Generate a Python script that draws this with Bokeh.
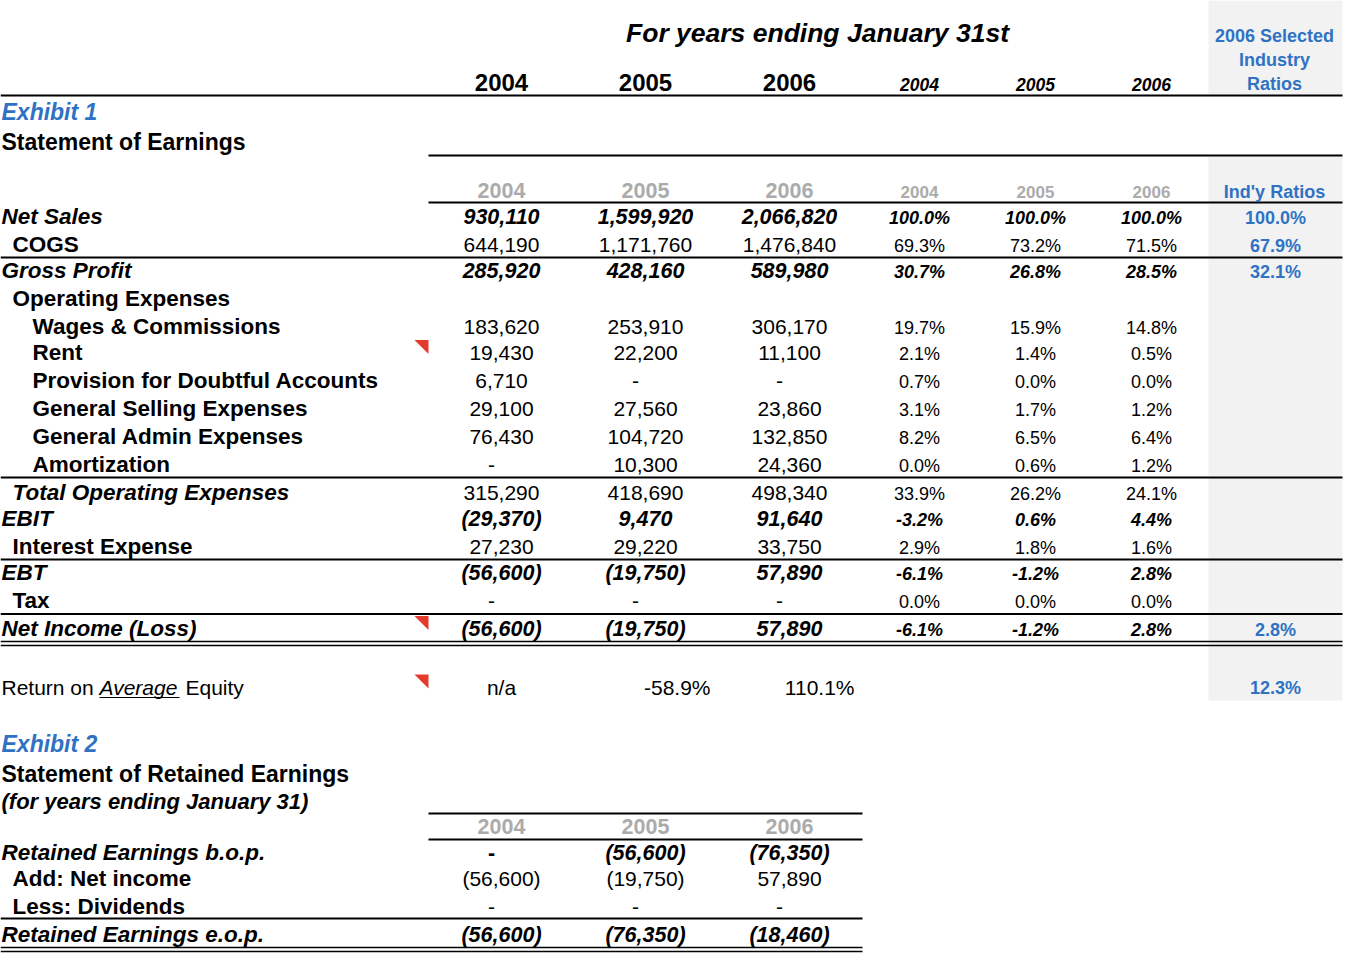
from bokeh.plotting import figure
from bokeh.models import ColumnDataSource
from bokeh.core.properties import value
from bokeh.embed import file_html
from bokeh.resources import INLINE

# ---------------- data ----------------
title = "For years ending January 31st"
years = ["2004", "2005", "2006"]
industry_header = ["2006 Selected", "Industry", "Ratios"]
industry_sub = "Ind'y Ratios"
exhibit1 = "Exhibit 1"
statement1 = "Statement of Earnings"

labels = ["Net Sales", "COGS", "Gross Profit", "Operating Expenses",
          "Wages & Commissions", "Rent", "Provision for Doubtful Accounts",
          "General Selling Expenses", "General Admin Expenses", "Amortization",
          "Total Operating Expenses", "EBIT", "Interest Expense", "EBT", "Tax",
          "Net Income (Loss)"]
v2004 = [930110, 644190, 285920, None, 183620, 19430, 6710, 29100, 76430, 0,
         315290, -29370, 27230, -56600, 0, -56600]
v2005 = [1599920, 1171760, 428160, None, 253910, 22200, 0, 27560, 104720, 10300,
         418690, 9470, 29220, -19750, 0, -19750]
v2006 = [2066820, 1476840, 589980, None, 306170, 11100, 0, 23860, 132850, 24360,
         498340, 91640, 33750, 57890, 0, 57890]
pct2004 = [100.0, 69.3, 30.7, None, 19.7, 2.1, 0.7, 3.1, 8.2, 0.0, 33.9, -3.2, 2.9, -6.1, 0.0, -6.1]
pct2005 = [100.0, 73.2, 26.8, None, 15.9, 1.4, 0.0, 1.7, 6.5, 0.6, 26.2, 0.6, 1.8, -1.2, 0.0, -1.2]
pct2006 = [100.0, 71.5, 28.5, None, 14.8, 0.5, 0.0, 1.2, 6.4, 1.2, 24.1, 4.4, 1.6, 2.8, 0.0, 2.8]
industry = [100.0, 67.9, 32.1, None, None, None, None, None, None, None,
            None, None, None, None, None, 2.8]

roe_label = ["Return on ", "Average", " Equity"]
roe = ["n/a", -58.9, 110.1]
roe_industry = 12.3

exhibit2 = "Exhibit 2"
statement2 = "Statement of Retained Earnings"
statement2_sub = "(for years ending January 31)"
re_labels = ["Retained Earnings b.o.p.", "Add: Net income", "Less: Dividends",
             "Retained Earnings e.o.p."]
re2004 = [0, -56600, 0, -56600]
re2005 = [-56600, -19750, 0, -76350]
re2006 = [-76350, 57890, 0, -18460]

# ---------------- layout / style ----------------
FONT = "Liberation Sans"
BLUE = "#2F72C4"
GREY_TXT = "#ABABAB"
BAND = "#F2F2F2"
RED = "#E53B2D"

label_indent = [0, 1, 0, 1, 2, 2, 2, 2, 2, 2, 1, 0, 1, 0, 1, 0]
label_style = ["bold italic", "bold", "bold italic", "bold", "bold", "bold", "bold",
               "bold", "bold", "bold", "bold italic", "bold italic", "bold",
               "bold italic", "bold", "bold italic"]
value_style = ["bold italic", "normal", "bold italic", "normal", "normal", "normal",
               "normal", "normal", "normal", "normal", "normal", "bold italic",
               "normal", "bold italic", "normal", "bold italic"]
row_y = [216, 244, 270, 298, 326, 352, 380, 408, 436, 464, 492, 518, 546, 572, 600, 628]
re_row_y = [852, 878, 906, 934]
re_value_style = ["bold italic", "normal", "normal", "bold italic"]
X0 = 1
indent_x = {0: X0, 1: 12, 2: 32}
val_x = [501, 645, 789]
pct_x = [919, 1035, 1151]
ind_x = 1275
LBL = 22.5


def acct(v):
    if v is None:
        return None
    if v == 0:
        return "-"
    s = f"{abs(v):,}"
    return f"({s})" if v < 0 else s


def pct(v):
    return None if v is None else f"{v:.1f}%"


stores = {a: dict(x=[], y=[], text=[], style=[], size=[], color=[]) for a in ("left", "center", "right")}


def add(x, yc, txt, style="normal", size=21, color="#000000", align="center"):
    s = stores[align]
    s["x"].append(x)
    s["y"].append(yc)
    s["text"].append(txt)
    s["style"].append(style)
    s["size"].append(f"{size}px")
    s["color"].append(color)


# header
add(817, 32, title, "bold italic", 26.5)
for i, yr in enumerate(years):
    add(val_x[i], 81.5, yr, "bold", 24)
    add(pct_x[i], 83.5, yr, "bold italic", 17.5)
for j, t in enumerate(industry_header):
    add(ind_x - 1, 35.5 + 24 * j, t, "bold", 18, BLUE)

add(X0, 111, exhibit1, "bold italic", 23, BLUE, "left")
add(X0, 141.5, statement1, "bold", 23, "#000000", "left")

# grey year row
for i, yr in enumerate(years):
    add(val_x[i], 190, yr, "bold", 21.5, GREY_TXT)
    add(pct_x[i], 191, yr, "bold", 17, GREY_TXT)
add(ind_x - 1, 191, industry_sub, "bold", 18, BLUE)

vals = [v2004, v2005, v2006]
pcts = [pct2004, pct2005, pct2006]
for r, lab in enumerate(labels):
    yc = row_y[r]
    add(indent_x[label_indent[r]], yc, lab, label_style[r], LBL, "#000000", "left")
    vs = value_style[r]
    for c in range(3):
        t = acct(vals[c][r])
        if t is not None:
            add(val_x[c] - (10 if t == "-" else 0), yc, t, vs,
                21.5 if vs != "normal" else 21)
        tp = pct(pcts[c][r])
        if tp is not None:
            add(pct_x[c], yc + 1.5, tp, vs, 18)
    ti = pct(industry[r])
    if ti is not None:
        add(ind_x, yc + 1.5, ti, "bold", 18, BLUE)

# return on average equity
roe_y = 686.5
add(X0, roe_y, roe_label[0], "normal", 21, "#000000", "left")
add(X0 + 98, roe_y, roe_label[1], "italic", 21, "#000000", "left")
add(X0 + 184, roe_y, roe_label[2], "normal", 21, "#000000", "left")
add(val_x[0], roe_y, roe[0], "normal", 21)
add(710, roe_y, pct(roe[1]), "normal", 21, "#000000", "right")
add(854, roe_y, pct(roe[2]), "normal", 21, "#000000", "right")
add(ind_x, roe_y + 1, pct(roe_industry), "bold", 18, BLUE)

# exhibit 2
add(X0, 743, exhibit2, "bold italic", 23, BLUE, "left")
add(X0, 773, statement2, "bold", 23, "#000000", "left")
add(X0, 800.5, statement2_sub, "bold italic", 22, "#000000", "left")
for i, yr in enumerate(years):
    add(val_x[i], 826, yr, "bold", 21.5, GREY_TXT)
re_vals = [re2004, re2005, re2006]
re_indent = [0, 1, 1, 0]
re_label_style = ["bold italic", "bold", "bold", "bold italic"]
for r, lab in enumerate(re_labels):
    yc = re_row_y[r]
    add(indent_x[re_indent[r]], yc, lab, re_label_style[r], LBL, "#000000", "left")
    vs = re_value_style[r]
    for c in range(3):
        t = acct(re_vals[c][r])
        st = vs if not (t == "-" and r == 0) else "bold"
        add(val_x[c] - (10 if t == "-" else 0), yc, t, st,
            21.5 if st != "normal" else 21)

# ---------------- figure ----------------
W, H = 1354, 962
p = figure(width=W, height=H, x_range=(0, W), y_range=(H, 0),
           output_backend="svg", toolbar_location=None, tools="",
           x_axis_location=None, y_axis_location=None, min_border=0)
p.grid.visible = False
p.outline_line_color = None
p.background_fill_color = "white"
p.border_fill_color = "white"

# grey industry band
p.quad(left=[1208, 1208], right=[1342, 1342], top=[0, 156], bottom=[94, 700],
       fill_color=BAND, line_color=None)

# rules
full_l, full_r = 0, 1342
seg_x0 = [full_l, 428, 428, full_l, full_l, full_l, full_l, full_l, full_l,
          428, 428, full_l, full_l, full_l]
seg_x1 = [full_r, full_r, full_r, full_r, full_r, full_r, full_r, full_r, full_r,
          862, 862, 862, 862, 862]
seg_y = [95, 155, 202, 257, 477, 559, 613.5, 641, 645, 813, 839, 918, 947, 951]
seg_w = [2, 2, 2, 2, 2, 2, 2, 1.6, 1.6, 2, 2, 2, 1.6, 1.6]
p.segment(x0=seg_x0, x1=seg_x1, y0=seg_y, y1=seg_y, line_color="black", line_width=seg_w)
# underline for "Average"
p.segment(x0=[X0 + 98], x1=[X0 + 178], y0=[697], y1=[697], line_color="black", line_width=1.2)

# comment markers (red corner triangles)
tri_rows = [row_y[5], row_y[15], roe_y]
xs = [[414, 428, 428] for _ in tri_rows]
ys = [[y - 12.5, y - 12.5, y + 1.5] for y in tri_rows]
p.patches(xs=xs, ys=ys, fill_color=RED, line_color=None)

for align, s in stores.items():
    src = ColumnDataSource(s)
    p.text(x="x", y="y", text="text", source=src, text_align=align,
           text_baseline="alphabetic", text_font=value(FONT),
           text_font_style="style", text_font_size="size", text_color="color")

open("out.html", "w").write(file_html(p, INLINE))
